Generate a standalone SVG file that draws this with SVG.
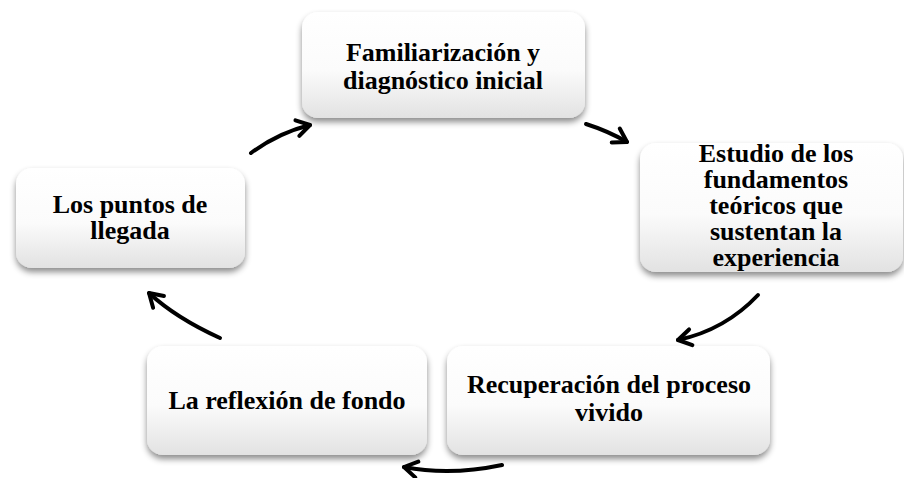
<svg xmlns="http://www.w3.org/2000/svg" width="904" height="478" viewBox="0 0 904 478">
<defs>
<linearGradient id="g" x1="0" y1="0" x2="0" y2="1">
<stop offset="0" stop-color="#ffffff"/>
<stop offset="0.55" stop-color="#fbfbfb"/>
<stop offset="1" stop-color="#e2e2e2"/>
</linearGradient>
<filter id="sh" x="-10%" y="-10%" width="120%" height="130%">
<feDropShadow dx="0" dy="4" stdDeviation="3" flood-color="#000" flood-opacity="0.45"/>
</filter>
<marker id="ah" viewBox="-16 -11 19 22" refX="0" refY="0" markerWidth="19" markerHeight="22" markerUnits="userSpaceOnUse" orient="auto">
<path d="M-13,-8 L0,0 L-13,8" fill="none" stroke="#000" stroke-width="4" stroke-linecap="round" stroke-linejoin="round"/>
</marker>
</defs>
<style>
.box{fill:url(#g);filter:url(#sh);}
.t{font-family:"Liberation Serif","Times New Roman",serif;font-weight:bold;font-size:26px;fill:#000;text-anchor:middle;}
.c{fill:none;stroke:#000;stroke-width:4;stroke-linecap:round;marker-end:url(#ah);}
</style>
<rect width="904" height="478" fill="#fff"/>
<g id="n1">
<rect class="box" x="302" y="12" width="283" height="106" rx="16"/>
<text class="t" x="443" y="61">Familiarización y</text>
<text class="t" x="443" y="89">diagnóstico inicial</text>
</g>
<g id="n2">
<rect class="box" x="640" y="143" width="263" height="129" rx="16"/>
<text class="t" x="776" y="162">Estudio de los</text>
<text class="t" x="776" y="188">fundamentos</text>
<text class="t" x="776" y="214">teóricos que</text>
<text class="t" x="776" y="240">sustentan la</text>
<text class="t" x="776" y="266">experiencia</text>
</g>
<g id="n3">
<rect class="box" x="447" y="346" width="323" height="109" rx="16"/>
<text class="t" x="609" y="393">Recuperación del proceso</text>
<text class="t" x="609" y="421">vivido</text>
</g>
<g id="n4">
<rect class="box" x="147" y="346" width="280" height="109" rx="16"/>
<text class="t" x="287" y="409">La reflexión de fondo</text>
</g>
<g id="n5">
<rect class="box" x="16" y="168" width="229" height="100" rx="16"/>
<text class="t" x="130" y="213">Los puntos de</text>
<text class="t" x="130" y="239">llegada</text>
</g>
<g id="connectors">
<path class="c" d="M251,153 Q278,133 310,125"/>
<path class="c" d="M586,124 Q608,131 627,142"/>
<path class="c" d="M758,295 Q725,330 678,340"/>
<path class="c" d="M502,465 Q450,476 404,467"/>
<path class="c" d="M220,338 Q176,318 149,293"/>
</g>
</svg>
